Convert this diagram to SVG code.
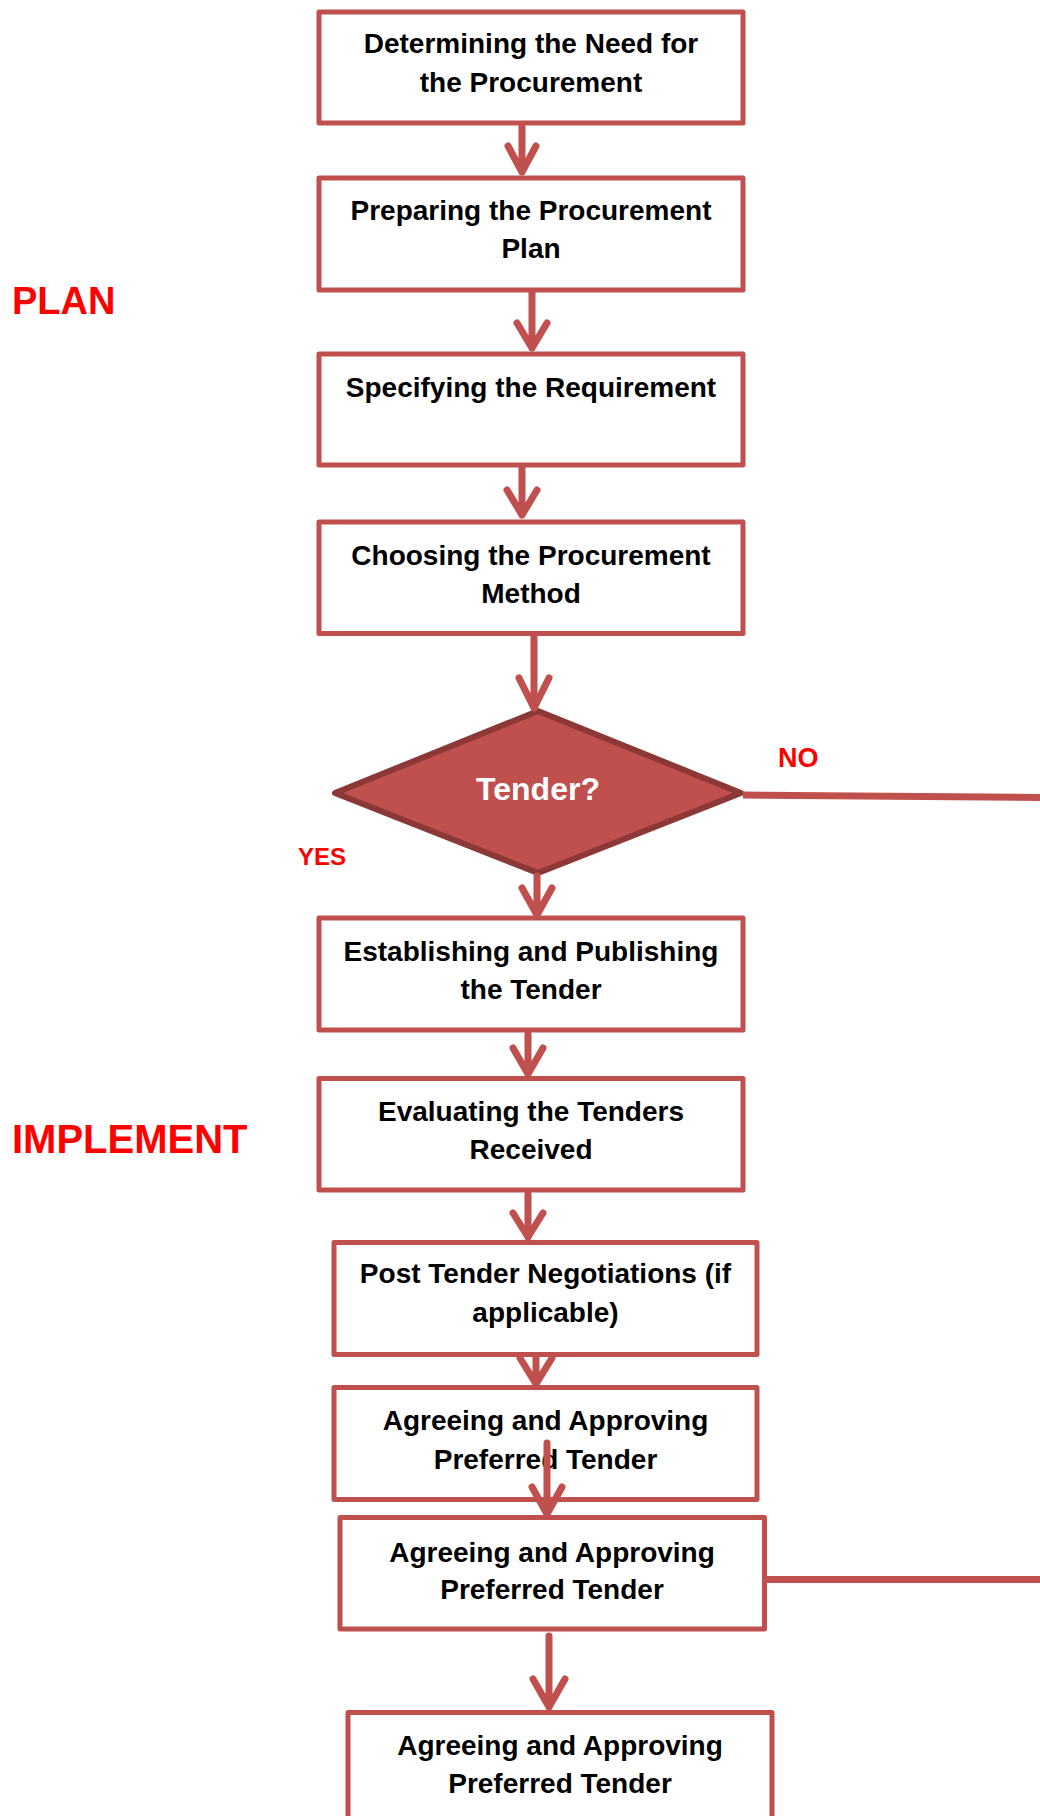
<svg xmlns="http://www.w3.org/2000/svg" width="1040" height="1816" viewBox="0 0 1040 1816">
<style>
.box{fill:#fff;stroke:#C0504D;stroke-width:5;stroke-linejoin:round}
.t{font-family:"Liberation Sans",Arial,sans-serif;font-weight:bold;font-size:28px;fill:#000;text-anchor:middle}
.dt{font-family:"Liberation Sans",Arial,sans-serif;font-weight:bold;font-size:32px;fill:#fff;text-anchor:middle}
.lbl{font-family:"Liberation Sans",Arial,sans-serif;font-weight:bold;fill:#FF0000}
.c{fill:none;stroke:#C0504D;stroke-width:7;stroke-linecap:round;stroke-linejoin:round}
.cl{fill:none;stroke:#C0504D;stroke-width:7;stroke-linecap:butt}
</style>
<rect width="1040" height="1816" fill="#fff"/>
<g id="label-plan"><text class="lbl" x="12" y="314" font-size="38">PLAN</text></g>
<g id="label-implement"><text class="lbl" x="12" y="1153" font-size="40">IMPLEMENT</text></g>
<g id="label-yes"><text class="lbl" x="298" y="865" font-size="24">YES</text></g>
<g id="label-no"><text class="lbl" x="778" y="767" font-size="27">NO</text></g>

<g id="n1"><rect class="box" x="319" y="12" width="424" height="111"/>
<text class="t" x="531" y="53">Determining the Need for</text><text class="t" x="531" y="92">the Procurement</text></g>
<g id="n2"><rect class="box" x="319" y="178" width="424" height="112"/>
<text class="t" x="531" y="220">Preparing the Procurement</text><text class="t" x="531" y="258">Plan</text></g>
<g id="n3"><rect class="box" x="319" y="354" width="424" height="111"/>
<text class="t" x="531" y="397">Specifying the Requirement</text></g>
<g id="n4"><rect class="box" x="319" y="522" width="424" height="111.5"/>
<text class="t" x="531" y="565">Choosing the Procurement</text><text class="t" x="531" y="603">Method</text></g>
<g id="n5"><polygon points="538,711 741,793 538,873 335,793" fill="#C0504D" stroke="#8C3836" stroke-width="6" stroke-linejoin="round"/>
<text class="dt" x="538" y="800">Tender?</text></g>
<g id="n6"><rect class="box" x="319" y="918" width="424" height="112"/>
<text class="t" x="531" y="961">Establishing and Publishing</text><text class="t" x="531" y="999">the Tender</text></g>
<g id="n7"><rect class="box" x="319" y="1078.5" width="424" height="111.5"/>
<text class="t" x="531" y="1121">Evaluating the Tenders</text><text class="t" x="531" y="1159">Received</text></g>
<g id="n8"><rect class="box" x="334" y="1242.5" width="423" height="112"/>
<text class="t" x="545.5" y="1283">Post Tender Negotiations (if</text><text class="t" x="545.5" y="1322">applicable)</text></g>
<g id="n9"><rect class="box" x="334" y="1387.5" width="423" height="112"/>
<text class="t" x="545.5" y="1430">Agreeing and Approving</text><text class="t" x="545.5" y="1469">Preferred Tender</text></g>
<g id="n10"><rect class="box" x="340" y="1517.5" width="424.5" height="111.5"/>
<text class="t" x="552" y="1562">Agreeing and Approving</text><text class="t" x="552" y="1599">Preferred Tender</text></g>
<g id="n11"><rect class="box" x="348" y="1712.5" width="424" height="150"/>
<text class="t" x="560" y="1755">Agreeing and Approving</text><text class="t" x="560" y="1793">Preferred Tender</text></g>

<g id="connectors">
<path class="c" d="M522 125V172M508 146L522 172L536 146"/>
<path class="c" d="M532 292V348M517 323L532 348L547 323"/>
<path class="c" d="M522 467V515M507 490L522 515L537 490"/>
<path class="c" d="M534 636V708M519 678L534 708L549 678"/>
<path class="c" d="M537 876V915M522 888L537 915L552 888"/>
<path class="c" d="M528 1032V1074M513 1048L528 1074L543 1048"/>
<path class="c" d="M528 1192V1237M513 1213L528 1237L543 1213"/>
<path class="c" d="M536 1357V1384M520 1358L536 1384L552 1358"/>
<path class="c" d="M547 1443V1514M532 1487L547 1514L562 1487"/>
<path class="c" d="M549 1636V1707M533 1679L549 1707L565 1679"/>
<path class="cl" d="M743 795L1040 797.5"/>
<path class="cl" d="M766 1579.5H1040"/>
</g>
</svg>
